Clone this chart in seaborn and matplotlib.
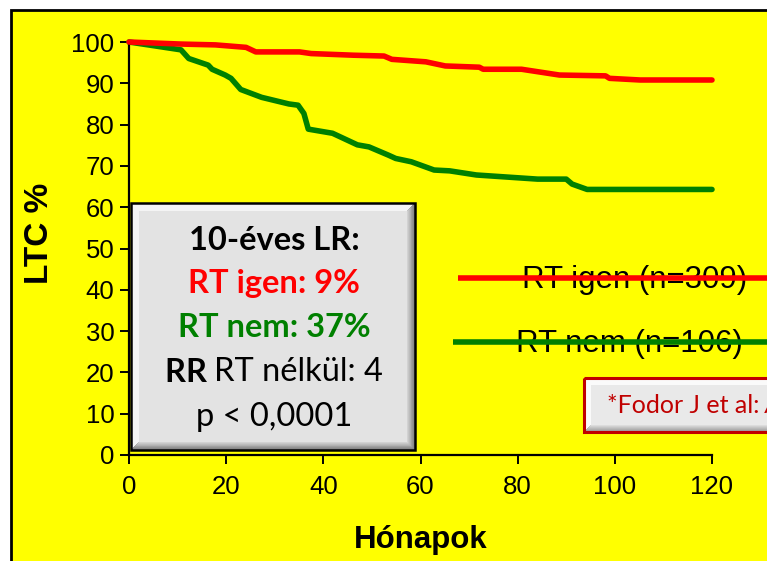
import matplotlib
matplotlib.use("Agg")
import matplotlib.pyplot as plt
import seaborn as sns
import pandas as pd
import numpy as np
from matplotlib.patches import Rectangle, Polygon

# ---- data ----
igen_months = [0, 10.7, 17.8, 24.1, 26.1, 35.1, 37.5, 46.2, 52.5, 54.1, 61.1, 65.1, 72.1, 72.9, 80.8, 88.6, 98.1, 98.9, 105.2, 120]
igen_ltc    = [100, 99.5, 99.3, 98.7, 97.6, 97.6, 97.2, 96.8, 96.6, 95.8, 95.2, 94.2, 93.9, 93.4, 93.4, 92.0, 91.8, 91.2, 90.8, 90.8]
nem_months = [0, 10.7, 12.3, 16.3, 17.1, 19.8, 21.0, 23.0, 27.3, 32.9, 34.8, 36.0, 36.9, 41.9, 47.0, 49.4, 53.4, 54.9, 58.1, 62.8, 66.0, 71.5, 84.1, 90.0, 91.2, 94.3, 120]
nem_ltc    = [100, 98.1, 96.0, 94.4, 93.4, 92.0, 91.2, 88.5, 86.6, 85.0, 84.7, 82.7, 78.9, 77.9, 75.1, 74.6, 72.6, 71.8, 71.0, 69.0, 68.8, 67.8, 66.8, 66.8, 65.6, 64.3, 64.3]
x_ticks = [0, 20, 40, 60, 80, 100, 120]
y_ticks = [0, 10, 20, 30, 40, 50, 60, 70, 80, 90, 100]
series_labels = ["RT igen (n=309)", "RT nem (n=106)"]
box_lines = ["10-éves LR:", "RT igen: 9%", "RT nem: 37%", "RT nélkül: 4", "p < 0,0001"]

RED = "#FF0000"
GREEN = "#008000"

df = pd.concat([
    pd.DataFrame({"Hónapok": igen_months, "LTC": igen_ltc, "grp": "igen"}),
    pd.DataFrame({"Hónapok": nem_months, "LTC": nem_ltc, "grp": "nem"}),
])

sns.set_theme(style="white")
plt.rcParams["font.family"] = ["Liberation Sans", "DejaVu Sans"]

W, H = 767, 561
fig = plt.figure(figsize=(W / 100, H / 100), dpi=100)
fig.patch.set_facecolor("white")

# background (pixel coordinates)
bg = fig.add_axes([0, 0, 1, 1], zorder=0)
bg.set_xlim(0, W); bg.set_ylim(H, 0); bg.axis("off")
bg.add_patch(Rectangle((10.5, 9.5), 800, 600, facecolor="#FFFF00", edgecolor="black", lw=2))

# main axes
L, R, B, T = 129, 712, 455, 42
ax = fig.add_axes([L / W, (H - B) / H, (R - L) / W, (B - T) / H], zorder=1)
ax.set_facecolor("none")
sns.lineplot(data=df, x="Hónapok", y="LTC", hue="grp", palette={"igen": RED, "nem": GREEN},
             linewidth=4.0, legend=False, ax=ax, estimator=None, sort=False)
for ln in ax.lines:
    ln.set_clip_on(False)
ax.lines[0].set_zorder(3)
ax.lines[1].set_zorder(2)

ax.set_xlim(0, 120); ax.set_ylim(0, 100)
ax.set_xticks(x_ticks); ax.set_yticks(y_ticks)
ax.set_xticklabels([str(v) for v in x_ticks]); ax.set_yticklabels([str(v) for v in y_ticks])
for s in ["top", "right"]:
    ax.spines[s].set_visible(False)
for s in ["left", "bottom"]:
    ax.spines[s].set_color("black"); ax.spines[s].set_linewidth(1.6)
ax.tick_params(axis="both", direction="out", length=6.5, width=1.4, colors="black",
               labelsize=18.5, left=True, bottom=True)
ax.tick_params(axis="x", pad=8)
ax.tick_params(axis="y", pad=4)
ax.set_xlabel("Hónapok", fontsize=22.5, fontweight="bold", color="black")
ax.set_ylabel("LTC %", fontsize=24, fontweight="bold", color="black")
ax.xaxis.set_label_coords((421 - L) / (R - L), (B - 540) / (B - T))
ax.xaxis.label.set_va("center")
ax.yaxis.set_label_coords((40 - L) / (R - L), (B - 233) / (B - T))
ax.yaxis.label.set_va("center")
ax.grid(False)

# overlay for annotations
ov = fig.add_axes([0, 0, 1, 1], zorder=3)
ov.set_xlim(0, W); ov.set_ylim(H, 0); ov.axis("off"); ov.set_facecolor("none")


def bevel_box(x0, y0, x1, y1, bev, face, light, dark, edge, elw):
    ov.add_patch(Rectangle((x0, y0), x1 - x0, y1 - y0, facecolor=dark, edgecolor="none", zorder=1))
    ov.add_patch(Polygon([(x0, y0), (x1, y0), (x1 - bev, y0 + bev), (x0 + bev, y0 + bev),
                          (x0 + bev, y1 - bev), (x0, y1)], closed=True, facecolor=light,
                         edgecolor="none", zorder=1.1))
    n = 6
    for i in range(n):
        f = (i + 1) / (n + 1)
        c = np.array(matplotlib.colors.to_rgb(dark)) * (1 - f) + np.array(matplotlib.colors.to_rgb(face)) * f
        d = bev * (1 - i / n)
        ov.add_patch(Polygon([(x1 - bev + d, y0 + bev - d), (x1 - bev + d, y1 - bev + d),
                              (x0 + bev - d, y1 - bev + d), (x0 + bev, y1 - bev),
                              (x1 - bev, y1 - bev), (x1 - bev, y0 + bev)],
                             closed=True, facecolor=c, edgecolor="none", zorder=1.2 + i * 0.01))
    ov.add_patch(Rectangle((x0 + bev, y0 + bev), x1 - x0 - 2 * bev, y1 - y0 - 2 * bev,
                           facecolor=face, edgecolor="none", zorder=1.5))
    ov.add_patch(Rectangle((x0, y0), x1 - x0, y1 - y0, facecolor="none", edgecolor=edge, lw=elw, zorder=1.6))


# gray statistics box
bevel_box(131, 203, 415, 450, 8, "#E3E3E3", "#F4F4F4", "#6E6E6E", "black", 1.8)
BF = ["Lato", "DejaVu Sans"]
FS = 23.5
cx = 274
ov.text(cx, 240, box_lines[0], ha="center", va="center", fontsize=FS, fontweight="bold", color="black", family=BF, zorder=5)
ov.text(cx, 283, box_lines[1], ha="center", va="center", fontsize=FS, fontweight="bold", color=RED, family=BF, zorder=5)
ov.text(cx, 327, box_lines[2], ha="center", va="center", fontsize=FS, fontweight="bold", color=GREEN, family=BF, zorder=5)
t1 = ov.text(cx, 372, "RR ", ha="right", va="center", fontsize=FS, fontweight="bold", color="black", family=BF, zorder=5)
t2 = ov.text(0, 372, box_lines[3], ha="left", va="center", fontsize=FS, color="black", family=BF, zorder=5)
fig.canvas.draw()
rend = fig.canvas.get_renderer()
w1 = t1.get_window_extent(rend).width
w2 = t2.get_window_extent(rend).width
start = cx - (w1 + w2) / 2
t1.set_x(start + w1)
t2.set_x(start + w1)
ov.text(cx, 417, box_lines[4], ha="center", va="center", fontsize=FS, color="black", family=BF, zorder=5)

# series labels with lines drawn through them
ov.text(522, 280, series_labels[0], ha="left", va="center", fontsize=22.5, color="black", zorder=4)
ov.plot([458, 800], [278, 278], color=RED, lw=4.0, zorder=6, solid_capstyle="butt", clip_on=False)
ov.text(516, 344, series_labels[1], ha="left", va="center", fontsize=22.5, color="black", zorder=4)
ov.plot([453, 800], [342, 342], color=GREEN, lw=4.0, zorder=6, solid_capstyle="butt", clip_on=False)

# citation box (cut by figure edge)
bevel_box(584, 378, 820, 432, 7, "#E9E9E9", "#FAFAFA", "#8C8C8C", "#C00000", 2.2)
ct = ov.text(607, 405, "*Fodor J et al:", ha="left", va="center", fontsize=18, color="#C00000", family=BF, zorder=5)
fig.canvas.draw()
ext = ct.get_window_extent(fig.canvas.get_renderer())
ov.text(ext.x1 + 5, 405, "A", ha="left", va="center", fontsize=18, color="#C00000", family=BF,
        style="italic", zorder=5, transform=None) if False else None
ov.text(max(607 + ext.width + 5, 760), 405, "A", ha="left", va="center", fontsize=18, color="#C00000",
        family=BF, style="italic", zorder=5)

fig.savefig("out.png", dpi=100, facecolor="white")
